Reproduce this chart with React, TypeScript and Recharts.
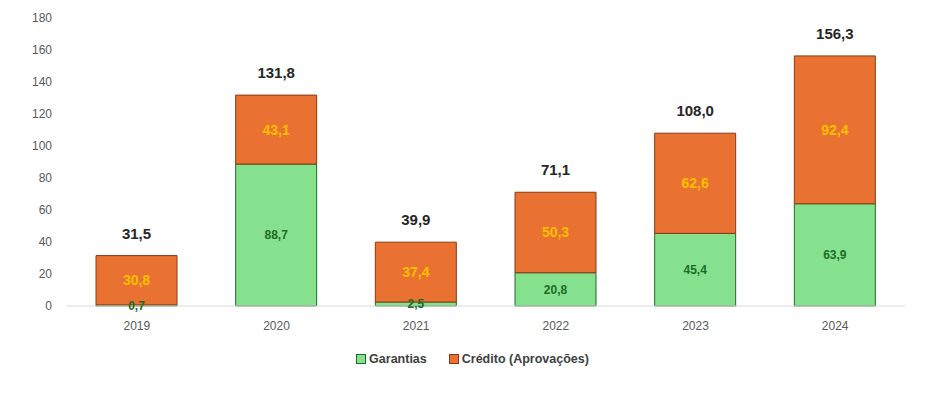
import React from 'react';
import { BarChart, Bar, XAxis, YAxis, LabelList, Legend } from 'recharts';

const years = ['2019', '2020', '2021', '2022', '2023', '2024'];
const garantias = [0.7, 88.7, 2.5, 20.8, 45.4, 63.9];
const credito = [30.8, 43.1, 37.4, 50.3, 62.6, 92.4];
const totais = [31.5, 131.8, 39.9, 71.1, 108.0, 156.3];
const yTicks = [0, 20, 40, 60, 80, 100, 120, 140, 160, 180];

const data = years.map((y, i) => ({
  year: y,
  garantias: garantias[i],
  credito: credito[i],
  total: totais[i],
}));

const fmt = (v: any) => (typeof v === 'number' ? v.toFixed(1).replace('.', ',') : v);

const GREEN = '#86E18E';
const GREEN_STROKE = '#1F6B25';
const ORANGE = '#E97132';
const ORANGE_STROKE = '#8A3A10';

const LegendContent = () => (
  <div style={{ display: 'flex', justifyContent: 'center', gap: 22, paddingLeft: 14, fontFamily: '"Liberation Sans", Arial, sans-serif', fontWeight: 700, fontSize: 12.5, color: '#404040' }}>
    <div style={{ display: 'flex', alignItems: 'center', gap: 3 }}>
      <span style={{ width: 8, height: 8, background: GREEN, border: `1px solid ${GREEN_STROKE}`, display: 'inline-block' }} />
      <span>Garantias</span>
    </div>
    <div style={{ display: 'flex', alignItems: 'center', gap: 3 }}>
      <span style={{ width: 8, height: 8, background: ORANGE, border: `1px solid ${ORANGE_STROKE}`, display: 'inline-block' }} />
      <span>Crédito (Aprovações)</span>
    </div>
  </div>
);

export default function App() {
  return (
    <div style={{ position: 'absolute', left: 0, top: 0, width: 931, height: 399, background: '#fff' }}>
      <BarChart width={931} height={399} data={data} margin={{ top: 18, right: 26, left: 0, bottom: 49 }} barSize={81}>
        <XAxis
          dataKey="year"
          axisLine={{ stroke: '#D9D9D9' }}
          tickLine={false}
          tick={{ fill: '#595959', fontSize: 12, fontFamily: '"Liberation Sans", Arial, sans-serif' }}
          height={30}
          tickMargin={9}
        />
        <YAxis
          domain={[0, 180]}
          ticks={yTicks}
          axisLine={false}
          tickLine={false}
          width={67}
          tickMargin={9}
          interval={0}
          tick={{ fill: '#595959', fontSize: 12, fontFamily: '"Liberation Sans", Arial, sans-serif' }}
        />
        <Legend
          content={<LegendContent />}
          wrapperStyle={{ position: 'absolute', top: 352, left: 0, width: 931 }}
        />
        <Bar dataKey="garantias" stackId="a" fill={GREEN} stroke={GREEN_STROKE} strokeWidth={1} isAnimationActive={false} name="Garantias">
          <LabelList
            dataKey="garantias"
            position="center"
            formatter={fmt}
            style={{ fill: '#1E6B26', fontSize: 12, fontWeight: 700, fontFamily: '"Liberation Sans", Arial, sans-serif' }}
          />
        </Bar>
        <Bar dataKey="credito" stackId="a" fill={ORANGE} stroke={ORANGE_STROKE} strokeWidth={1} isAnimationActive={false} name="Crédito (Aprovações)">
          <LabelList
            dataKey="credito"
            position="center"
            formatter={fmt}
            style={{ fill: '#FFC000', fontSize: 14, fontWeight: 700, fontFamily: '"Liberation Sans", Arial, sans-serif' }}
          />
          <LabelList
            dataKey="total"
            position="top"
            offset={17}
            formatter={fmt}
            style={{ fill: '#262626', fontSize: 15, fontWeight: 700, fontFamily: '"Liberation Sans", Arial, sans-serif' }}
          />
        </Bar>
      </BarChart>
    </div>
  );
}
